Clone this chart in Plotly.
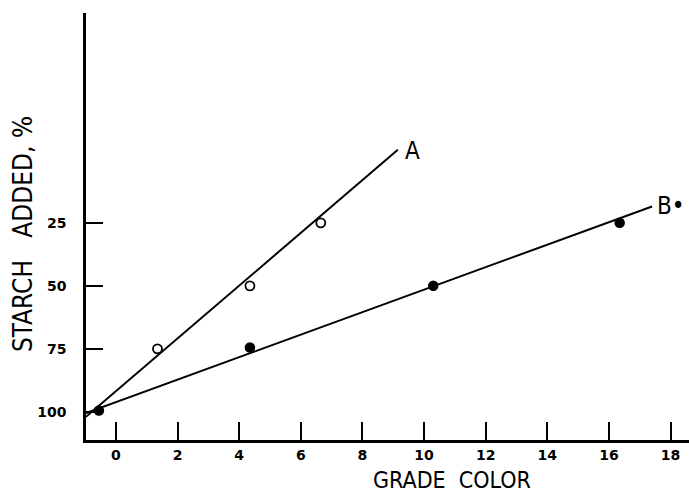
import plotly.graph_objects as go

# Data
a_x = [1.35, 4.35, 6.65]
a_y = [75, 50, 25]
b_x = [-0.55, 4.35, 10.3, 16.35]
b_y = [99.5, 74.5, 50, 25]
# fitted straight lines (end points)
a_line_x = [-0.97, 9.15]
a_line_y = [102, -4]
b_line_x = [-0.97, 17.4]
b_line_y = [100.5, 18.5]

x_ticks = [0, 2, 4, 6, 8, 10, 12, 14, 16, 18]
y_ticks = [25, 50, 75, 100]

W, H = 689, 492
L, R, T, B = 86, 0, 13, 52
PW, PH = W - L - R, H - T - B

TITLE_FONT = "Liberation Sans Narrow, DejaVu Sans Condensed, Liberation Sans"

fig = go.Figure()
fig.add_trace(go.Scatter(x=a_line_x, y=a_line_y, mode="lines",
                         line=dict(color="black", width=2), showlegend=False))
fig.add_trace(go.Scatter(x=b_line_x, y=b_line_y, mode="lines",
                         line=dict(color="black", width=2), showlegend=False))
fig.add_trace(go.Scatter(x=a_x, y=a_y, mode="markers",
                         marker=dict(symbol="circle", size=9, color="white",
                                     line=dict(color="black", width=1.8)),
                         showlegend=False))
fig.add_trace(go.Scatter(x=b_x, y=b_y, mode="markers",
                         marker=dict(symbol="circle", size=10.5, color="black"),
                         showlegend=False))

fig.add_annotation(x=a_line_x[1], y=a_line_y[1], text="A", showarrow=False,
                   xanchor="left", xshift=5, yshift=-1,
                   font=dict(family=TITLE_FONT, size=24, color="black"))
fig.add_annotation(x=b_line_x[1], y=b_line_y[1], text="B•", showarrow=False,
                   xanchor="left", xshift=3, yshift=0,
                   font=dict(family=TITLE_FONT, size=24, color="black"))

fig.add_annotation(x=(452 - L) / PW, y=-(480 - (H - B)) / PH,
                   xref="paper", yref="paper", text="GRADE  COLOR",
                   showarrow=False, yanchor="middle", xanchor="center",
                   font=dict(family=TITLE_FONT, size=23, color="black"))
fig.add_annotation(x=-(L - 23) / PW, y=1 - (234 - T) / PH,
                   xref="paper", yref="paper", text="STARCH   ADDED, %",
                   showarrow=False, textangle=-90, xanchor="center", yanchor="middle",
                   font=dict(family=TITLE_FONT, size=26, color="black"))

fig.update_layout(
    width=W, height=H,
    margin=dict(l=L, r=R, t=T, b=B, autoexpand=False),
    paper_bgcolor="white", plot_bgcolor="white",
    font=dict(family="DejaVu Sans", color="black"),
)

fig.update_xaxes(range=[-0.97, 18.6], tickvals=x_ticks,
                 ticktext=[str(v) for v in x_ticks],
                 ticks="inside", ticklen=18, tickwidth=2, tickcolor="black",
                 showline=True, linecolor="black", linewidth=2.5,
                 showgrid=False, zeroline=False, automargin=False,
                 tickfont=dict(family="DejaVu Sans", size=14, color="black", weight="bold"))
fig.update_yaxes(range=[111.2, -58.3], tickvals=y_ticks,
                 ticktext=[str(v) for v in y_ticks],
                 ticks="inside", ticklen=17, tickwidth=2, tickcolor="black",
                 showline=True, linecolor="black", linewidth=2.5,
                 showgrid=False, zeroline=False, ticklabelstandoff=14, automargin=False,
                 tickfont=dict(family="DejaVu Sans", size=14, color="black", weight="bold"))

fig.write_html("out.html", config={"displayModeBar": False},
               post_script="document.body.style.margin='0';document.body.style.overflow='hidden';")
